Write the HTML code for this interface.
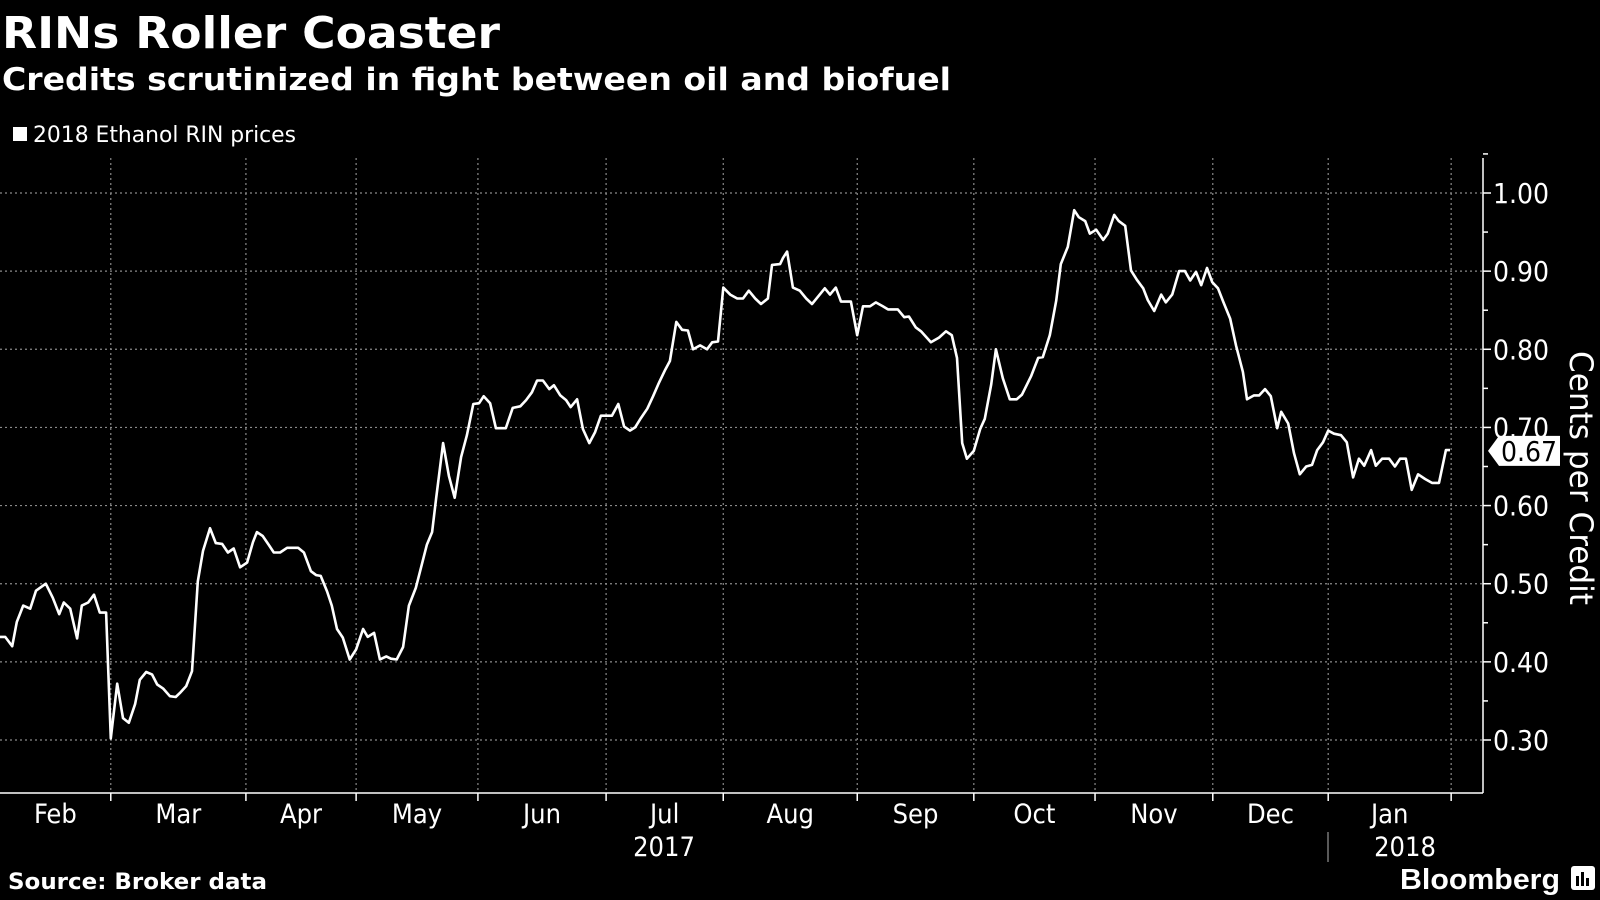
<!DOCTYPE html>
<html><head><meta charset="utf-8"><style>
html,body{margin:0;padding:0;background:#000;width:1600px;height:900px;overflow:hidden}
svg{display:block}
text{fill:#fff}
</style></head><body>
<svg id="chart" width="1600" height="900" viewBox="0 0 1600 900" xmlns="http://www.w3.org/2000/svg">
<text x="2" y="48" font-family="'DejaVu Sans','Liberation Sans',sans-serif" font-weight="bold" font-size="44" textLength="498" lengthAdjust="spacingAndGlyphs">RINs Roller Coaster</text>
<text x="2" y="90" font-family="'DejaVu Sans','Liberation Sans',sans-serif" font-weight="bold" font-size="31" textLength="949" lengthAdjust="spacingAndGlyphs">Credits scrutinized in fight between oil and biofuel</text>
<rect x="13" y="127" width="14" height="14" fill="#fff"/>
<text x="33" y="142" font-family="'DejaVu Sans Condensed','DejaVu Sans','Liberation Sans',sans-serif" font-size="22" textLength="263" lengthAdjust="spacingAndGlyphs">2018 Ethanol RIN prices</text>
<g id="grid"></g>
<g id="axes"></g>
<path id="line" fill="none" stroke="#fff" stroke-width="2.6" stroke-linejoin="round"/>
<g id="tag"></g>
<text transform="translate(1570,478) rotate(90)" text-anchor="middle" font-family="'DejaVu Sans Condensed','DejaVu Sans','Liberation Sans',sans-serif" font-size="32" textLength="254" lengthAdjust="spacingAndGlyphs">Cents per Credit</text>
<text x="664" y="856" text-anchor="middle" font-family="'DejaVu Sans Condensed','DejaVu Sans',sans-serif" font-size="27">2017</text>
<text x="1405" y="856" text-anchor="middle" font-family="'DejaVu Sans Condensed','DejaVu Sans',sans-serif" font-size="27">2018</text>
<line x1="1328" y1="832" x2="1328" y2="862" stroke="#777" stroke-width="1.5"/>
<text x="8" y="889" font-family="'DejaVu Sans','Liberation Sans',sans-serif" font-weight="bold" font-size="22" textLength="259" lengthAdjust="spacingAndGlyphs">Source: Broker data</text>
<text x="1560" y="889" text-anchor="end" font-family="'Liberation Sans',sans-serif" font-weight="bold" font-size="29" textLength="160" lengthAdjust="spacingAndGlyphs">Bloomberg</text>
<g>
<rect x="1571" y="866" width="24" height="24" rx="3" fill="#fff"/>
<rect x="1576" y="876" width="3" height="10" fill="#000"/><rect x="1581" y="872" width="3" height="14" fill="#000"/><rect x="1586" y="878" width="3" height="8" fill="#000"/>
</g>
</svg>
<script>
// data: trading-day index and price (dollars per credit)
const days = [0,0.9,2.1,2.9,4.0,5.2,6.2,7.9,9.1,10.2,11.0,12.1,13.3,14.1,15.2,16.2,17.2,18.3,19.1,20.2,21.2,22.2,23.3,24.1,25.2,26.2,27.1,28.1,29.3,30.3,31.0,32.1,33.1,34.1,35.0,36.2,37.2,38.3,39.3,40.3,41.4,42.6,43.6,44.3,45.3,46.4,47.2,48.3,49.5,51.4,52.4,53.6,54.5,55.3,56.4,57.2,58.1,59.1,60.3,61.4,62.6,63.4,64.5,65.5,66.6,67.4,68.4,69.5,70.5,71.7,72.6,73.6,74.5,75.2,76.4,77.4,78.4,79.5,80.5,81.6,82.6,83.4,84.5,85.5,87.2,88.4,89.7,90.7,91.7,92.6,93.6,94.7,95.5,96.6,97.6,98.4,99.5,100.5,101.6,102.6,103.6,104.5,105.5,106.6,107.6,108.6,109.5,110.5,111.6,112.6,113.6,114.7,115.5,116.6,117.6,118.6,119.5,120.7,121.9,122.8,123.8,124.7,125.9,127.1,128.1,129.1,130.2,131.2,132.4,133.1,134.5,135.0,135.7,136.7,137.9,139.0,140.0,141.2,142.2,143.1,144.1,145.0,146.7,147.8,148.8,150.0,151.0,152.2,153.1,154.8,155.9,156.7,157.9,158.8,160.5,161.9,163.1,164.1,165.0,165.9,166.7,167.9,169.0,169.8,170.9,171.7,172.9,174.1,175.3,176.2,177.8,179.0,179.8,181.0,182.1,182.9,184.1,185.2,186.0,187.1,187.9,189.0,190.2,191.0,192.1,192.9,194.0,195.0,196.0,197.1,197.9,199.0,200.2,201.0,202.1,203.3,204.3,205.2,206.2,207.1,208.1,209.0,210.0,210.9,212.1,213.1,214.3,215.0,216.2,217.1,218.1,219.1,220.2,220.9,222.1,223.1,224.1,225.2,226.2,227.1,228.1,229.0,230.0,231.2,232.2,233.3,234.3,235.2,236.4,237.2,238.3,239.5,240.5,241.4,242.4,243.4,244.5,245.7,246.9,248.1,249.3,250.0];
const prices = [.432,.432,.420,.451,.472,.468,.491,.500,.482,.461,.476,.468,.430,.472,.476,.486,.463,.463,.302,.372,.328,.322,.346,.377,.387,.384,.371,.366,.356,.355,.360,.369,.388,.503,.542,.571,.552,.551,.540,.545,.521,.527,.553,.566,.561,.549,.540,.540,.546,.546,.540,.516,.511,.510,.490,.472,.442,.431,.403,.416,.442,.432,.437,.403,.407,.404,.403,.419,.472,.495,.521,.550,.566,.610,.680,.638,.610,.662,.690,.730,.731,.740,.731,.699,.699,.725,.727,.735,.745,.760,.760,.749,.754,.741,.735,.726,.736,.698,.680,.694,.715,.715,.715,.730,.701,.696,.700,.712,.724,.740,.757,.774,.785,.835,.825,.824,.800,.805,.800,.809,.810,.879,.870,.865,.865,.875,.865,.858,.865,.908,.909,.917,.925,.879,.875,.865,.858,.869,.878,.870,.879,.861,.861,.818,.855,.855,.860,.855,.851,.851,.841,.842,.828,.823,.809,.815,.823,.818,.789,.680,.660,.670,.698,.711,.755,.800,.763,.736,.736,.742,.766,.789,.790,.818,.862,.909,.931,.978,.969,.964,.948,.953,.940,.948,.972,.964,.958,.901,.889,.878,.863,.849,.870,.860,.870,.900,.900,.888,.899,.882,.904,.886,.878,.861,.839,.805,.771,.736,.741,.741,.749,.740,.699,.720,.705,.667,.640,.650,.652,.671,.681,.696,.692,.690,.681,.636,.660,.651,.671,.651,.660,.660,.650,.660,.660,.620,.640,.634,.629,.629,.671,.671];
const monthLabels = ["Feb","Mar","Apr","May","Jun","Jul","Aug","Sep","Oct","Nov","Dec","Jan"];
const monthStartDays = [0,19.1,42.4,61.4,82.4,104.5,124.7,147.8,167.9,188.8,209.1,229.0,250.2];
const yTicks = [0.30,0.40,0.50,0.60,0.70,0.80,0.90,1.00];
const lastValue = 0.67;

const NS="http://www.w3.org/2000/svg";
const X0=0, PX_PER_DAY=5.8, AXIS_X=1483, PLOT_TOP=158, PLOT_BOTTOM=793;
const xScale = d => X0 + d*PX_PER_DAY;
const yScale = v => 193 + (1.00 - v)/0.70*547;
function mk(tag, attrs, parent){const e=document.createElementNS(NS,tag);for(const k in attrs)e.setAttribute(k,attrs[k]);parent.appendChild(e);return e;}
const grid=document.getElementById('grid'), axes=document.getElementById('axes');

yTicks.forEach(t=>{
  const y=yScale(t);
  const g=mk('line',{x1:0,x2:AXIS_X,y1:y,y2:y,stroke:'#8a8a8a','stroke-width':1.2,'stroke-dasharray':'2 3'},grid);
  
  
  const tk=mk('line',{x1:AXIS_X,x2:AXIS_X+8,y1:y,y2:y,stroke:'#fff','stroke-width':1.5},axes);
  
  
  const mt=mk('line',{x1:AXIS_X,x2:AXIS_X+5,y1:yScale(t+0.05),y2:yScale(t+0.05),stroke:'#fff','stroke-width':1.5},axes);
  
  
  const lb=mk('text',{x:AXIS_X+10,y:y+10,'font-family':"'DejaVu Sans Condensed','DejaVu Sans',sans-serif",'font-size':28},axes);
  lb.textContent=t.toFixed(2);
  
  
});
const ax=mk('line',{x1:AXIS_X,x2:AXIS_X,y1:PLOT_TOP,y2:PLOT_BOTTOM,stroke:'#fff','stroke-width':1.5},axes);


const bx=mk('line',{x1:0,x2:AXIS_X,y1:PLOT_BOTTOM,y2:PLOT_BOTTOM,stroke:'#fff','stroke-width':1.5},axes);



monthStartDays.forEach((d,i)=>{
  const x=xScale(d);
  if(i>0){
    const g=mk('line',{x1:x,x2:x,y1:PLOT_TOP,y2:PLOT_BOTTOM,stroke:'#8a8a8a','stroke-width':1.2,'stroke-dasharray':'2 3'},grid);
    
    
    const tk=mk('line',{x1:x,x2:x,y1:PLOT_BOTTOM,y2:PLOT_BOTTOM+8,stroke:'#fff','stroke-width':1.5},axes);
    
    
  }
  if(i<monthLabels.length){
    const mid=(xScale(d)+xScale(monthStartDays[i+1]))/2;
    const lb=mk('text',{x:mid,y:823,'text-anchor':'middle','font-family':"'DejaVu Sans Condensed','DejaVu Sans',sans-serif",'font-size':27},axes);
    lb.textContent=monthLabels[i];
    
    
  }
});

document.getElementById('line').setAttribute('d',days.map((d,i)=>(i?'L':'M')+xScale(d).toFixed(1)+','+yScale(prices[i]).toFixed(1)).join(''));

const tag=document.getElementById('tag');
const ty=yScale(lastValue);
const poly=mk('polygon',{points:`1488,${ty} 1499,${ty-15} 1560,${ty-15} 1560,${ty+15} 1499,${ty+15}`,fill:'#fff'},tag);


const tt=mk('text',{x:1529,y:ty+10,'text-anchor':'middle','font-family':"'DejaVu Sans Condensed','DejaVu Sans',sans-serif",'font-size':28,style:'fill:#000'},tag);
tt.textContent=lastValue.toFixed(2);


</script>
</body></html>
